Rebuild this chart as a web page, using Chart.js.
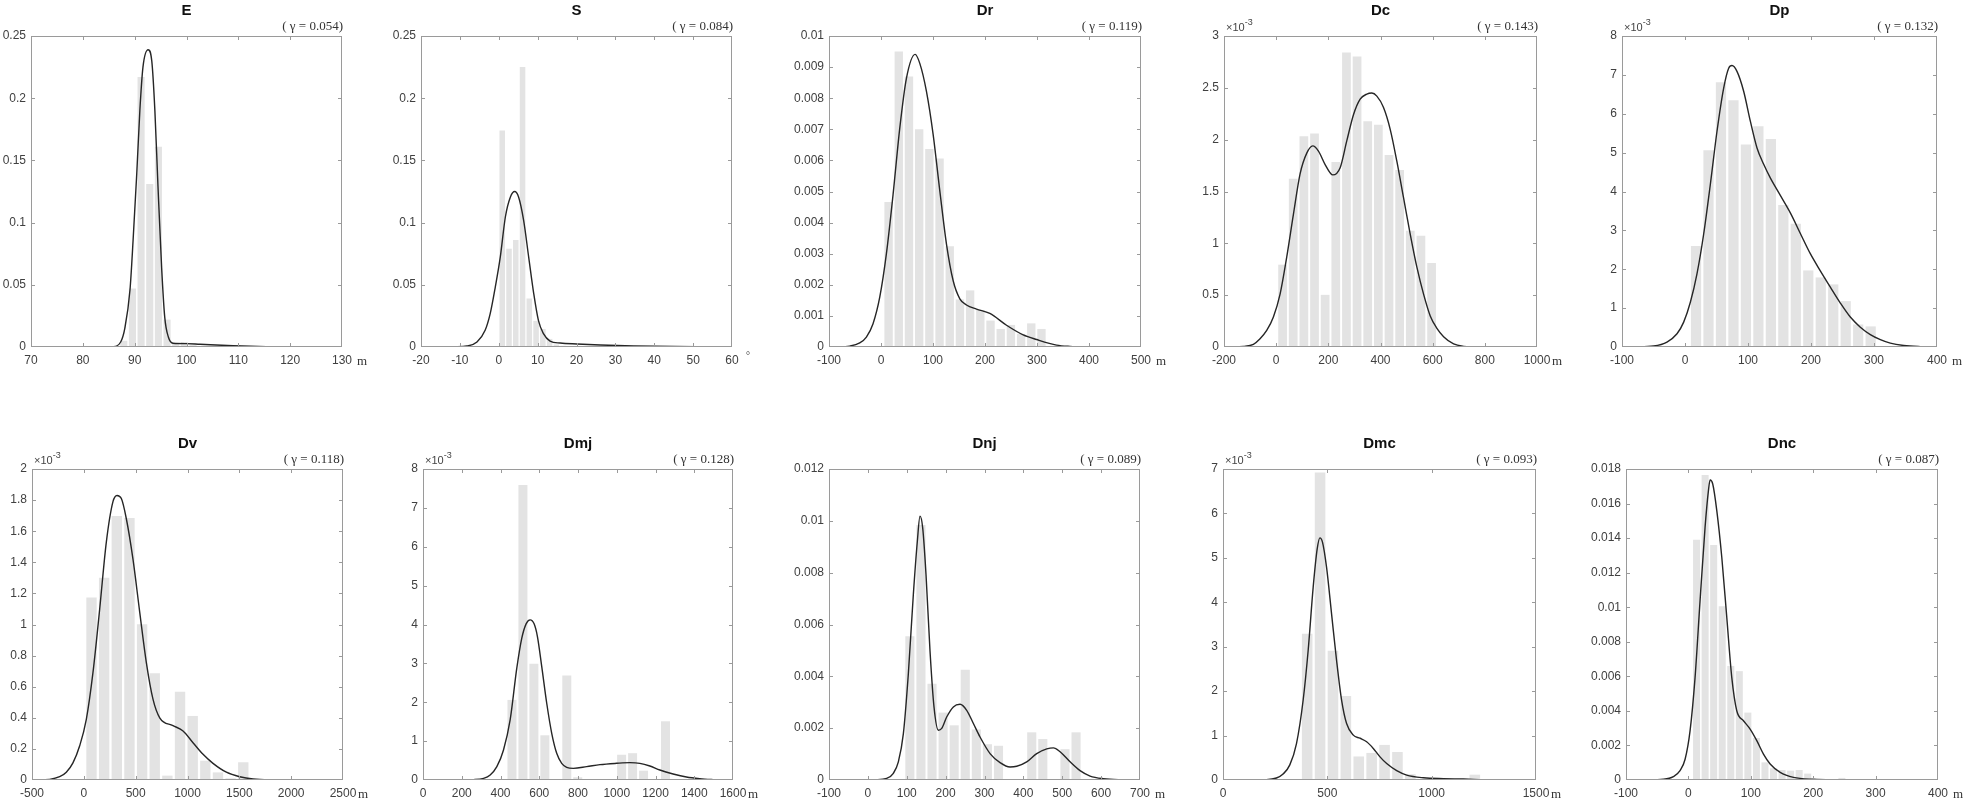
<!DOCTYPE html>
<html>
<head>
<meta charset="utf-8">
<script src="https://cdn.jsdelivr.net/npm/chart.js@4.4.1/dist/chart.umd.min.js"></script>
<style>
  html, body { margin: 0; padding: 0; background: #fff; }
  #wrap { position: relative; width: 1966px; height: 802px; overflow: hidden; background: #fff; }
  #wrap canvas { position: absolute; }
</style>
</head>
<body>
<div id="wrap"></div>
<script>
// panel titles and the gamma value written above each panel
const titles = ['E', 'S', 'Dr', 'Dc', 'Dp', 'Dv', 'Dmj', 'Dnj', 'Dmc', 'Dnc'];
const gammas = ['0.054', '0.084', '0.119', '0.143', '0.132', '0.118', '0.128', '0.089', '0.093', '0.087'];
const units = ['m', '°', 'm', 'm', 'm', 'm', 'm', 'm', 'm', 'm'];

// axis ranges
const xMin = [70, -20, -100, -200, -100, -500, 0, -100, 0, -100];
const xMax = [130, 60, 500, 1000, 400, 2500, 1600, 700, 1500, 400];
const xStep = [10, 10, 100, 200, 100, 500, 200, 100, 500, 100];
const yMax = [0.25, 0.25, 0.01, 3e-3, 8e-3, 2e-3, 8e-3, 0.012, 7e-3, 0.018];
const yStep = [0.05, 0.05, 0.001, 0.5e-3, 1e-3, 0.2e-3, 1e-3, 0.002, 1e-3, 0.002];
const yExp = [false, false, false, true, true, true, true, false, true, false];

// histogram bin centres and densities
const eBins = [87.90, 89.57, 91.24, 92.91, 94.58, 96.25, 97.92, 99.59, 101.26];
const eHist = [0.005, 0.047, 0.217, 0.131, 0.161, 0.022, 0.003, 0.004, 0.002];

const sBins = [0.90, 2.64, 4.38, 6.12, 7.86, 9.60, 11.34, 13.08, 14.82, 16.56];
const sHist = [0.174, 0.079, 0.086, 0.225, 0.039, 0.021, 0.0145, 0.0065, 0.002, 0.001];

const drBins = [14.6, 34.2, 53.8, 73.4, 93.0, 112.6, 132.2, 151.8, 171.4, 191.0, 210.6, 230.2, 249.8, 269.4, 289.0, 308.6];
const drHist = [0.00466, 0.0095, 0.0087, 0.0070, 0.00637, 0.00606, 0.00324, 0.00153, 0.00182, 0.00119, 0.00085, 0.00058, 0.00071, 0.00042, 0.00076, 0.00058];

const dcBins = [24.6, 65.4, 106.2, 147.0, 187.8, 228.6, 269.4, 310.2, 351.0, 391.8, 432.6, 473.4, 514.2, 555.0, 595.8];
const dcHist = [0.794e-3, 1.623e-3, 2.033e-3, 2.059e-3, 0.503e-3, 1.784e-3, 2.840e-3, 2.802e-3, 2.177e-3, 2.145e-3, 1.851e-3, 1.707e-3, 1.121e-3, 1.073e-3, 0.810e-3];

const dpBins = [17.5, 37.3, 57.1, 76.9, 96.7, 116.5, 136.3, 156.1, 175.9, 195.7, 215.5, 235.3, 255.1, 274.9, 294.7];
const dpHist = [2.60e-3, 5.06e-3, 6.81e-3, 6.35e-3, 5.21e-3, 5.68e-3, 5.35e-3, 3.65e-3, 3.17e-3, 1.97e-3, 1.79e-3, 1.61e-3, 1.18e-3, 0.58e-3, 0.53e-3];

const dvBins = [74, 196, 318, 440, 562, 684, 806, 928, 1050, 1172, 1294, 1416, 1538];
const dvHist = [1.174e-3, 1.300e-3, 1.697e-3, 1.685e-3, 1.002e-3, 0.687e-3, 0.028e-3, 0.567e-3, 0.412e-3, 0.124e-3, 0.049e-3, 0.011e-3, 0.114e-3];

const dmjBins = [459.2, 515.8, 572.4, 629.0, 685.6, 742.2, 798.8, 855.4, 912.0, 968.6, 1025.2, 1081.8, 1138.4, 1195.0, 1251.6];
const dmjHist = [2.06e-3, 7.59e-3, 2.99e-3, 1.15e-3, 0, 2.69e-3, 0.07e-3, 0, 0, 0, 0.65e-3, 0.69e-3, 0.24e-3, 0, 1.51e-3];

const dnjBins = [108, 136.5, 165, 193.5, 222, 250.5, 279, 307.5, 336, 364.5, 393, 421.5, 450, 478.5, 507, 535.5];
const dnjHist = [0.00555, 0.00984, 0.00371, 0.0026, 0.00211, 0.00425, 0.00195, 0.00138, 0.00132, 0, 0, 0.00184, 0.00158, 0, 0.00119, 0.00184];

const dmcBins = [403.4, 465.2, 527.0, 588.8, 650.6, 712.4, 774.2, 836.0, 897.8, 959.6, 1021.4, 1083.2, 1145.0, 1206.8];
const dmcHist = [3.29e-3, 6.92e-3, 2.91e-3, 1.89e-3, 0.53e-3, 0.61e-3, 0.79e-3, 0.63e-3, 0.13e-3, 0, 0, 0, 0, 0.12e-3];

const dncBins = [13.1, 26.8, 40.5, 54.2, 67.9, 81.6, 95.3, 109.0, 122.7, 136.4, 150.1, 163.8, 177.5, 191.2, 204.9, 218.6, 232.3, 246.0];
const dncHist = [0.0139, 0.01765, 0.0136, 0.01005, 0.0066, 0.0063, 0.0039, 0.00243, 0.00102, 0.00068, 0.00058, 0.00054, 0.00058, 0.00037, 0, 0, 0, 0.00012];

// density curves, points
const eCurveX = [77.2, 85.9, 87.3, 88.1, 89.1, 89.7, 90.4, 91.0, 91.6, 92.6, 93.3, 93.9, 94.5, 95.2, 95.8, 96.5, 97.4, 100.0, 102.6, 109.0, 115.4, 128.6];
const eCurveY = [0, 0.0003, 0.004, 0.015, 0.046, 0.086, 0.139, 0.19, 0.225, 0.239, 0.23, 0.19, 0.129, 0.064, 0.024, 0.008, 0.003, 0.0027, 0.0022, 0.001, 0.0003, 0];

const sCurveX = [-11.6, -8.2, -5.6, -3.5, -2.2, -0.9, 0.4, 1.7, 3.0, 4.1, 5.1, 6.4, 7.7, 9.0, 10.2, 11.5, 13.2, 15.8, 20.1, 26.1, 34.7, 50.5];
const sCurveY = [0, 0.0008, 0.004, 0.0134, 0.0268, 0.048, 0.0724, 0.1045, 0.1206, 0.125, 0.1206, 0.1018, 0.0723, 0.0429, 0.0214, 0.0107, 0.0048, 0.0032, 0.0024, 0.0016, 0.0008, 0.0002];

const drCurveX = [-89.1, -60.2, -40.9, -28.1, -15.3, -2.4, 10.4, 23.2, 36.1, 48.9, 65.6, 74.6, 87.4, 100.3, 113.1, 125.9, 138.8, 151.6, 164.4, 183.7, 209.3, 241.4, 273.5, 299.1, 337.6, 363.3, 408.2];
const drCurveY = [0, 0.00003, 0.00013, 0.00032, 0.00075, 0.0016, 0.003, 0.0049, 0.00704, 0.00864, 0.00941, 0.00912, 0.00822, 0.00683, 0.00502, 0.00331, 0.00213, 0.00155, 0.00135, 0.00122, 0.00108, 0.0007, 0.00039, 0.00024, 0.00006, 0.00002, 0];

const dcCurveX = [-179.5, -125.8, -87.4, -61.8, -36.2, -10.6, 15.0, 40.6, 66.1, 91.7, 117.3, 140.3, 162.1, 187.7, 217.1, 245.3, 270.9, 296.4, 322.0, 347.6, 366.8, 386.0, 411.6, 437.2, 462.8, 488.3, 513.9, 539.5, 565.1, 590.7, 616.3, 641.9, 680.3, 718.6, 757.0, 795.4];
const dcCurveY = [0, 0.006e-3, 0.026e-3, 0.08e-3, 0.16e-3, 0.29e-3, 0.51e-3, 0.87e-3, 1.28e-3, 1.67e-3, 1.87e-3, 1.94e-3, 1.89e-3, 1.76e-3, 1.66e-3, 1.73e-3, 1.99e-3, 2.24e-3, 2.39e-3, 2.44e-3, 2.45e-3, 2.42e-3, 2.31e-3, 2.10e-3, 1.79e-3, 1.44e-3, 1.09e-3, 0.77e-3, 0.51e-3, 0.30e-3, 0.18e-3, 0.10e-3, 0.03e-3, 0.006e-3, 0.001e-3, 0];

const dpCurveX = [-81.5, -49.7, -28.6, -12.7, -2.1, 8.5, 19.0, 29.6, 40.2, 50.8, 61.4, 69.3, 74.6, 82.5, 93.1, 103.7, 114.3, 124.9, 135.4, 151.3, 167.2, 183.1, 198.9, 214.8, 230.7, 246.6, 262.4, 278.3, 294.2, 310.1, 325.9, 347.1, 373.5, 394.7];
const dpCurveY = [0, 0.026e-3, 0.128e-3, 0.34e-3, 0.64e-3, 1.15e-3, 1.88e-3, 2.90e-3, 4.18e-3, 5.55e-3, 6.66e-3, 7.17e-3, 7.24e-3, 7.09e-3, 6.58e-3, 5.81e-3, 5.12e-3, 4.70e-3, 4.35e-3, 3.90e-3, 3.45e-3, 2.92e-3, 2.40e-3, 1.96e-3, 1.54e-3, 1.13e-3, 0.77e-3, 0.51e-3, 0.32e-3, 0.19e-3, 0.10e-3, 0.04e-3, 0.01e-3, 0];

const dvCurveX = [-474, -330, -233, -169, -105, -40, 24, 88, 153, 217, 281, 320, 362, 410, 474, 539, 603, 667, 732, 860, 957, 1053, 1150, 1246, 1375, 1503, 1632, 1825, 2082];
const dvCurveY = [0, 0.004e-3, 0.021e-3, 0.05e-3, 0.11e-3, 0.22e-3, 0.39e-3, 0.69e-3, 1.10e-3, 1.53e-3, 1.79e-3, 1.83e-3, 1.81e-3, 1.68e-3, 1.42e-3, 1.08e-3, 0.755e-3, 0.52e-3, 0.40e-3, 0.35e-3, 0.315e-3, 0.24e-3, 0.165e-3, 0.107e-3, 0.05e-3, 0.021e-3, 0.006e-3, 0.001e-3, 0];

const dmjCurveX = [183.7, 260.9, 312.4, 346.8, 381.1, 415.5, 449.8, 484.1, 509.9, 532.2, 552.8, 573.4, 590.6, 612.9, 638.6, 664.4, 690.1, 715.9, 741.6, 776.0, 844.6, 913.3, 999.1, 1067.8, 1119.3, 1170.8, 1222.3, 1291.0, 1359.7, 1428.3, 1497.0, 1531.3];
const dmjCurveY = [0, 0.009e-3, 0.043e-3, 0.129e-3, 0.343e-3, 0.773e-3, 1.545e-3, 2.876e-3, 3.648e-3, 4.017e-3, 4.12e-3, 4.017e-3, 3.691e-3, 2.918e-3, 1.974e-3, 1.202e-3, 0.687e-3, 0.429e-3, 0.326e-3, 0.30e-3, 0.343e-3, 0.395e-3, 0.429e-3, 0.446e-3, 0.429e-3, 0.361e-3, 0.258e-3, 0.155e-3, 0.077e-3, 0.034e-3, 0.009e-3, 0];

const dnjCurveX = [-41.7, 22.6, 48.4, 65.5, 78.4, 91.3, 104.1, 117.0, 127.3, 134.1, 141.0, 149.5, 159.8, 170.1, 181.3, 189.9, 202.7, 219.9, 237.0, 254.2, 271.4, 288.5, 314.3, 340.0, 365.7, 382.9, 408.6, 434.3, 460.1, 477.2, 494.4, 520.1, 545.8, 571.6, 605.9, 657.3, 683.1];
const dnjCurveY = [0, 0.00001, 0.00006, 0.00026, 0.0007, 0.00179, 0.0041, 0.00717, 0.00922, 0.01018, 0.00973, 0.00794, 0.00499, 0.00282, 0.00192, 0.00199, 0.00243, 0.00282, 0.00292, 0.00269, 0.00218, 0.00166, 0.00102, 0.00067, 0.0005, 0.00053, 0.0007, 0.00102, 0.0012, 0.00124, 0.00109, 0.0007, 0.00036, 0.00015, 0.00005, 0.00001, 0];

const dmcCurveX = [112.1, 208.1, 256.1, 288.1, 320.2, 352.2, 384.2, 408.2, 432.2, 451.4, 464.2, 477.0, 496.2, 520.3, 544.3, 568.3, 592.3, 624.3, 656.3, 688.3, 720.3, 752.4, 784.4, 832.4, 880.4, 960.5, 1056.5, 1152.6, 1248.6, 1344.6, 1496.7];
const dmcCurveY = [0, 0.007e-3, 0.045e-3, 0.135e-3, 0.34e-3, 0.82e-3, 1.80e-3, 2.92e-3, 4.34e-3, 5.2e-3, 5.45e-3, 5.35e-3, 4.79e-3, 3.74e-3, 2.69e-3, 1.80e-3, 1.27e-3, 1.01e-3, 0.94e-3, 0.86e-3, 0.71e-3, 0.52e-3, 0.37e-3, 0.21e-3, 0.11e-3, 0.05e-3, 0.03e-3, 0.022e-3, 0.007e-3, 0.001e-3, 0];

const dncCurveX = [-71.1, -40.1, -24.1, -13.4, -5.3, 2.7, 10.7, 18.7, 26.7, 32.1, 34.8, 39.0, 45.5, 53.5, 61.5, 69.5, 77.5, 88.2, 98.9, 109.6, 120.3, 131.0, 147.1, 168.4, 200.5, 237.9, 291.4, 334.2];
const dncCurveY = [0, 0.00004, 0.00019, 0.00054, 0.0012, 0.00286, 0.00594, 0.01038, 0.01462, 0.01675, 0.01736, 0.01713, 0.01559, 0.01289, 0.00941, 0.00594, 0.00401, 0.00343, 0.00295, 0.00228, 0.0015, 0.00093, 0.00044, 0.00015, 0.00004, 0.00001, 0, 0];

const allBins = [eBins, sBins, drBins, dcBins, dpBins, dvBins, dmjBins, dnjBins, dmcBins, dncBins];
const allHist = [eHist, sHist, drHist, dcHist, dpHist, dvHist, dmjHist, dnjHist, dmcHist, dncHist];
const allCurveX = [eCurveX, sCurveX, drCurveX, dcCurveX, dpCurveX, dvCurveX, dmjCurveX, dnjCurveX, dmcCurveX, dncCurveX];
const allCurveY = [eCurveY, sCurveY, drCurveY, dcCurveY, dpCurveY, dvCurveY, dmjCurveY, dnjCurveY, dmcCurveY, dncCurveY];

// page position of each plot box: left, top, right, bottom
const boxes = [
    [31, 36, 342, 347], [421, 36, 732, 347], [829, 36, 1141, 347], [1224, 36, 1537, 347], [1622, 36, 1937, 347],
    [32, 469, 343, 780], [423, 469, 733, 780], [829, 469, 1140, 780], [1223, 469, 1536, 780], [1626, 469, 1938, 780]
];

const SANS = '"Liberation Sans", Arial, Helvetica, sans-serif';
const SERIF = '"Liberation Serif", "Times New Roman", serif';
const PL = 70, PT = 45, PR = 40, PB = 30;

// box, inward ticks and the texts around each plot
const framePlugin = {
    id: 'frame',
    afterDraw(chart, args, opts) {
        const ctx = chart.ctx;
        const a = chart.chartArea;
        const xs = chart.scales.x, ys = chart.scales.y;
        ctx.save();
        ctx.strokeStyle = '#9a9a9a';
        ctx.lineWidth = 1;
        ctx.strokeRect(a.left + 0.5, a.top + 0.5, a.width - 1, a.height - 1);

        ctx.beginPath();
        xs.ticks.forEach((t, i) => {
            if (i === 0 || i === xs.ticks.length - 1) return;
            const px = Math.round(xs.getPixelForValue(t.value)) + 0.5;
            ctx.moveTo(px, a.bottom); ctx.lineTo(px, a.bottom - 4);
            ctx.moveTo(px, a.top); ctx.lineTo(px, a.top + 4);
        });
        ys.ticks.forEach((t, i) => {
            if (i === 0 || i === ys.ticks.length - 1) return;
            const py = Math.round(ys.getPixelForValue(t.value)) + 0.5;
            ctx.moveTo(a.left, py); ctx.lineTo(a.left + 4, py);
            ctx.moveTo(a.right, py); ctx.lineTo(a.right - 4, py);
        });
        ctx.stroke();

        // title
        ctx.fillStyle = '#111';
        ctx.font = 'bold 15px ' + SANS;
        ctx.textAlign = 'center';
        ctx.textBaseline = 'middle';
        ctx.fillText(opts.title, (a.left + a.right) / 2, a.top - 25);

        // gamma note
        ctx.fillStyle = '#333';
        ctx.font = '13px ' + SERIF;
        ctx.textAlign = 'right';
        ctx.fillText('( \u03b3 = ' + opts.gamma + ')', a.right + 1, a.top - 9);

        // unit at the end of the x axis
        ctx.textAlign = 'left';
        if (opts.unit === '°') {
            ctx.font = '10px ' + SERIF;
            ctx.fillText(opts.unit, a.right + 14, a.bottom + 9);
        } else {
            ctx.font = '13px ' + SERIF;
            ctx.fillText(opts.unit, a.right + 15, a.bottom + 15);
        }

        // exponent label
        if (opts.exp) {
            ctx.fillStyle = '#444';
            ctx.font = '11px ' + SANS;
            ctx.fillText('\u00d710', a.left + 2, a.top - 8);
            const w = ctx.measureText('\u00d710').width;
            ctx.font = '9px ' + SANS;
            ctx.fillText('-3', a.left + 2 + w, a.top - 13);
        }
        ctx.restore();
    }
};

const wrap = document.getElementById('wrap');

titles.forEach((title, k) => {
    const [l, t, r, b] = boxes[k];
    const canvas = document.createElement('canvas');
    canvas.width = (r - l) + PL + PR;
    canvas.height = (b - t) + PT + PB;
    canvas.style.left = (l - PL) + 'px';
    canvas.style.top = (t - PT) + 'px';
    wrap.appendChild(canvas);

    const barData = allBins[k].map((c, i) => ({ x: c, y: allHist[k][i] }));
    const curveData = allCurveX[k].map((c, i) => ({ x: c, y: allCurveY[k][i] }));
    const exp = yExp[k];

    new Chart(canvas.getContext('2d'), {
        type: 'bar',
        data: {
            datasets: [
                {
                    type: 'line',
                    data: curveData,
                    borderColor: '#262626',
                    borderWidth: 1.4,
                    pointRadius: 0,
                    fill: false,
                    cubicInterpolationMode: 'monotone',
                    order: 0
                },
                {
                    type: 'bar',
                    data: barData,
                    backgroundColor: '#e3e3e3',
                    borderWidth: 0,
                    barPercentage: 0.82,
                    categoryPercentage: 1,
                    order: 1
                }
            ]
        },
        options: {
            responsive: false,
            maintainAspectRatio: false,
            animation: false,
            devicePixelRatio: 1,
            events: [],
            layout: { padding: { left: 0, top: PT, right: PR, bottom: 0 } },
            plugins: {
                legend: { display: false },
                tooltip: { enabled: false },
                title: { display: false },
                frame: { title: title, gamma: gammas[k], unit: units[k], exp: exp }
            },
            scales: {
                x: {
                    type: 'linear',
                    min: xMin[k],
                    max: xMax[k],
                    offset: false,
                    grid: { display: false, drawTicks: false },
                    border: { display: false },
                    ticks: {
                        stepSize: xStep[k],
                        autoSkip: false,
                        maxRotation: 0,
                        padding: 6,
                        color: '#404040',
                        font: { family: SANS, size: 12 },
                        callback: v => String(+v.toFixed(6))
                    },
                    afterFit: s => { s.height = PB; }
                },
                y: {
                    type: 'linear',
                    min: 0,
                    max: yMax[k],
                    grid: { display: false, drawTicks: false },
                    border: { display: false },
                    ticks: {
                        stepSize: yStep[k],
                        autoSkip: false,
                        padding: 5,
                        color: '#404040',
                        font: { family: SANS, size: 12 },
                        callback: v => exp ? String(+(v * 1000).toFixed(4)) : String(+v.toFixed(6))
                    },
                    afterFit: s => { s.width = PL; }
                }
            }
        },
        plugins: [framePlugin]
    });
});
</script>
</body>
</html>
